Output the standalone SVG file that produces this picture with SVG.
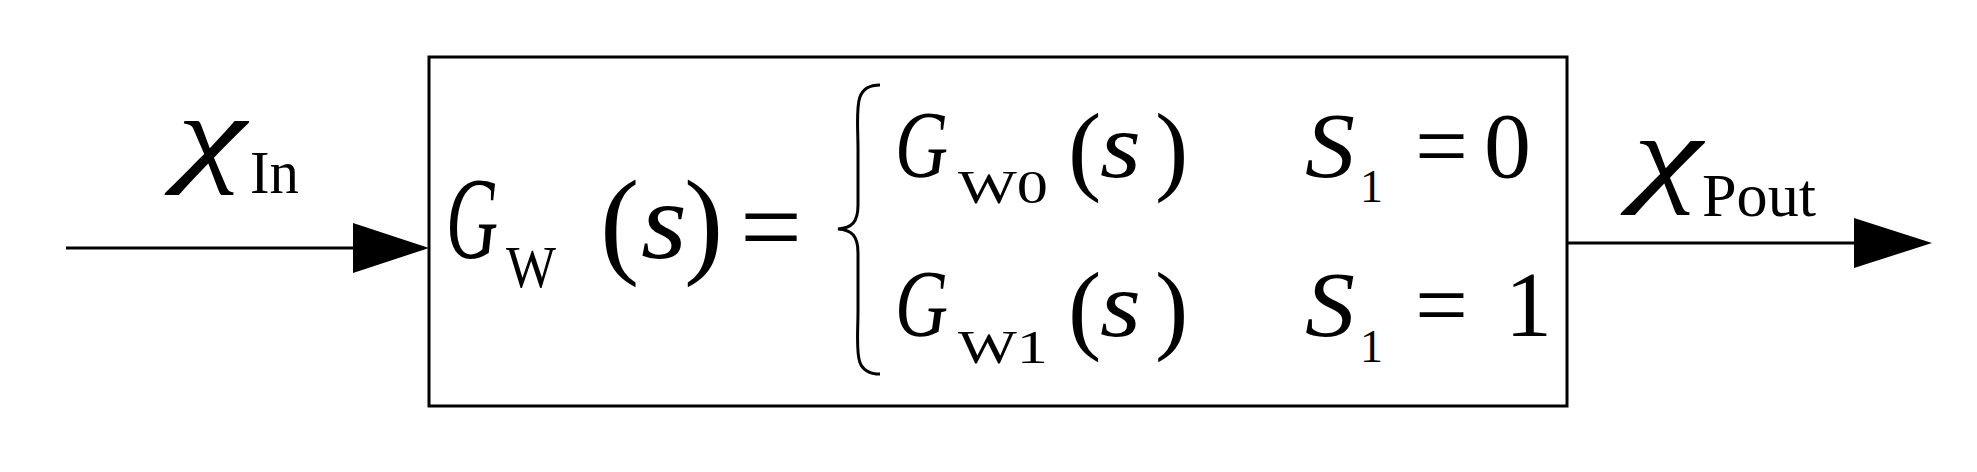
<svg xmlns="http://www.w3.org/2000/svg" width="1977" height="472" viewBox="0 0 1977 472">
<style>
text{font-family:"Liberation Serif",serif;fill:#000}
.i{font-style:italic}
.ln{stroke:#000;stroke-width:3;fill:none}
</style>
<rect width="1977" height="472" fill="#fff"/>
<g id="connectors">
<line class="ln" x1="66" y1="248" x2="360" y2="248"/>
<polygon points="353,223 429,248 353,273" fill="#000"/>
<line class="ln" x1="1567" y1="243" x2="1860" y2="243"/>
<polygon points="1854,218 1932,243 1854,268" fill="#000"/>
</g>
<g id="label-in">
<text class="i" x="177" y="172" font-size="110" textLength="69" lengthAdjust="spacingAndGlyphs">χ</text>
<text x="250" y="193" font-size="62" textLength="49" lengthAdjust="spacingAndGlyphs">In</text>
</g>
<g id="label-out">
<text class="i" x="1633" y="192" font-size="110" textLength="69" lengthAdjust="spacingAndGlyphs">χ</text>
<text x="1702" y="216" font-size="62" textLength="114" lengthAdjust="spacingAndGlyphs">Pout</text>
</g>
<g id="block">
<rect x="429" y="57" width="1138" height="349" fill="none" stroke="#000" stroke-width="3"/>
<text class="i" x="446" y="258" font-size="116" textLength="52" lengthAdjust="spacingAndGlyphs">G</text>
<text x="506" y="287" font-size="60" textLength="50" lengthAdjust="spacingAndGlyphs">W</text>
<text x="600" y="262" font-size="118">(</text>
<text class="i" x="641" y="258" font-size="110" textLength="46" lengthAdjust="spacingAndGlyphs">s</text>
<text x="684" y="262" font-size="118">)</text>
<text x="740" y="264" font-size="110">=</text>
<path d="M880,85 C852,85 858,110 858,150 L858,205 C858,222 852,228 838,229 C852,230 858,236 858,253 L858,310 C858,350 852,374 880,374" fill="none" stroke="#000" stroke-width="3"/>
<text class="i" x="895" y="177" font-size="96" textLength="53" lengthAdjust="spacingAndGlyphs">G</text>
<text x="958" y="203" font-size="46" textLength="90" lengthAdjust="spacingAndGlyphs">W0</text>
<text x="1068" y="182" font-size="100">(</text>
<text class="i" x="1100" y="177" font-size="94" textLength="41" lengthAdjust="spacingAndGlyphs">s</text>
<text x="1155" y="182" font-size="100">)</text>
<text class="i" x="1305" y="177" font-size="94" textLength="50" lengthAdjust="spacingAndGlyphs">S</text>
<text x="1360" y="202" font-size="46">1</text>
<text x="1415" y="177" font-size="94">=</text>
<text x="1484" y="177" font-size="94">0</text>
<text class="i" x="895" y="336" font-size="96" textLength="53" lengthAdjust="spacingAndGlyphs">G</text>
<text x="958" y="363" font-size="46" textLength="90" lengthAdjust="spacingAndGlyphs">W1</text>
<text x="1068" y="341" font-size="100">(</text>
<text class="i" x="1100" y="336" font-size="94" textLength="41" lengthAdjust="spacingAndGlyphs">s</text>
<text x="1155" y="341" font-size="100">)</text>
<text class="i" x="1305" y="336" font-size="94" textLength="50" lengthAdjust="spacingAndGlyphs">S</text>
<text x="1360" y="362" font-size="46">1</text>
<text x="1415" y="336" font-size="94">=</text>
<text x="1505" y="336" font-size="94">1</text>
</g>
</svg>
